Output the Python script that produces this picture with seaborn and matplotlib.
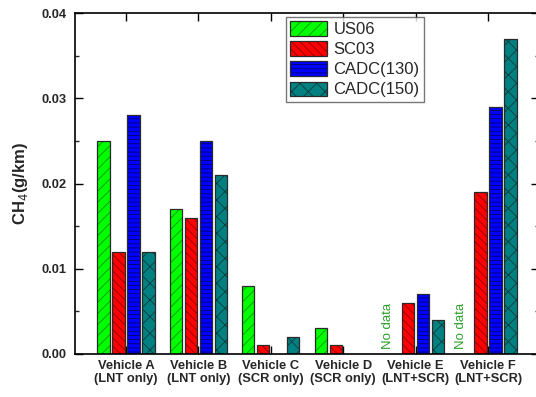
import numpy as np
import pandas as pd
import matplotlib
matplotlib.use("Agg")
import matplotlib.pyplot as plt
from matplotlib.patches import Patch, Rectangle
from matplotlib.legend_handler import HandlerTuple
from matplotlib.ticker import MultipleLocator
import seaborn as sns

# CH4 emission factors (g/km) per vehicle and driving cycle; NaN = not measured
vehicles = ["Vehicle A\n(LNT only)", "Vehicle B\n(LNT only)", "Vehicle C\n(SCR only)",
            "Vehicle D\n(SCR only)", "Vehicle E\n(LNT+SCR)", "Vehicle F\n(LNT+SCR)"]
cycles = ["US06", "SC03", "CADC(130)", "CADC(150)"]
us06 = [0.025, 0.017, 0.008, 0.003, np.nan, np.nan]
sc03 = [0.012, 0.016, 0.001, 0.001, 0.006, 0.019]
cadc130 = [0.028, 0.025, np.nan, np.nan, 0.007, 0.029]
cadc150 = [0.012, 0.021, 0.002, np.nan, 0.004, 0.037]
no_data_label = "No data"

colors = ["#00ff00", "#ff0000", "#0000ff", "#008080"]
hatch_colors = ["#109010", "#8a0000", "#00006a", "#0a3c3c"]
hatches = ["///", "\\\\\\\\", "----", "xx"]
outline = "#2a2a2a"

sns.set_theme(style="white")
plt.rcParams["font.family"] = ["Liberation Sans", "DejaVu Sans"]
plt.rcParams["hatch.linewidth"] = 0.6

rows = []
for cyc, vals in zip(cycles, [us06, sc03, cadc130, cadc150]):
    for v, val in zip(vehicles, vals):
        rows.append({"vehicle": v, "cycle": cyc, "value": val})
df = pd.DataFrame(rows).dropna()

fig = plt.figure(figsize=(5.36, 3.97), dpi=100)
ax = fig.add_axes([75 / 536, 1 - 354 / 397, 464 / 536, 341 / 397])

sns.barplot(data=df, x="vehicle", y="value", hue="cycle", order=vehicles,
            hue_order=cycles, palette=colors, width=0.83, gap=0.18,
            edgecolor="black", linewidth=0.9, errorbar=None, saturation=1,
            legend=False, ax=ax)

# hatch in a darker shade of each fill, then a dark outline on top
for cont, h, hc in zip(ax.containers, hatches, hatch_colors):
    for bar in cont:
        bar.set_hatch(h)
        bar.set_edgecolor(hc)
        bar.set_linewidth(0)
        ax.add_patch(Rectangle(bar.get_xy(), bar.get_width(), bar.get_height(),
                               fill=False, edgecolor=outline, linewidth=0.9,
                               zorder=bar.get_zorder() + 0.1))

# "No data" markers for the missing US06 tests
for i, val in enumerate(us06):
    if np.isnan(val):
        ax.text(i - 0.38, 0.0006, no_data_label, rotation=90, ha="center",
                va="bottom", color="#2ca02c", fontsize=9.5)

ax.set_xlim(-0.704, 5.704)
ax.set_ylim(0, 0.04)
ax.yaxis.set_major_locator(MultipleLocator(0.01))
ax.yaxis.set_minor_locator(MultipleLocator(0.005))
ax.set_yticklabels([f"{t:.2f}" for t in ax.get_yticks()])
ax.set_xlabel("")
ax.set_ylabel("CH$_4$(g/km)", fontsize=12, fontweight="bold", labelpad=8)

for s in ax.spines.values():
    s.set_visible(True)
    s.set_color("black")
    s.set_linewidth(1.2)

ax.tick_params(axis="both", which="major", direction="in", length=6, width=1,
               color="black", top=True, right=True, bottom=True, left=True,
               labelsize=9.3, pad=6)
ax.tick_params(axis="y", which="minor", direction="in", length=3, width=1,
               left=True, right=True)
ax.tick_params(axis="x", pad=4)
for lab in ax.get_xticklabels() + ax.get_yticklabels():
    lab.set_fontweight("bold")

# legend swatches: hatched fill overlaid with an outline
handles = [(Patch(facecolor=c, edgecolor=hc, hatch=h, linewidth=0),
            Patch(fill=False, edgecolor=outline, linewidth=0.9))
           for c, h, hc in zip(colors, hatches, hatch_colors)]
leg = ax.legend(handles, cycles, loc="upper left", bbox_to_anchor=(0.455, 0.988),
                borderaxespad=0, fontsize=12, frameon=True, fancybox=False,
                handlelength=2.2, handleheight=0.95, labelspacing=0.25,
                handletextpad=0.4, borderpad=0.25,
                handler_map={tuple: HandlerTuple(ndivide=1, pad=0)})
leg.get_frame().set_edgecolor("#555555")
leg.get_frame().set_linewidth(1.0)

fig.savefig("out.png", dpi=100)
